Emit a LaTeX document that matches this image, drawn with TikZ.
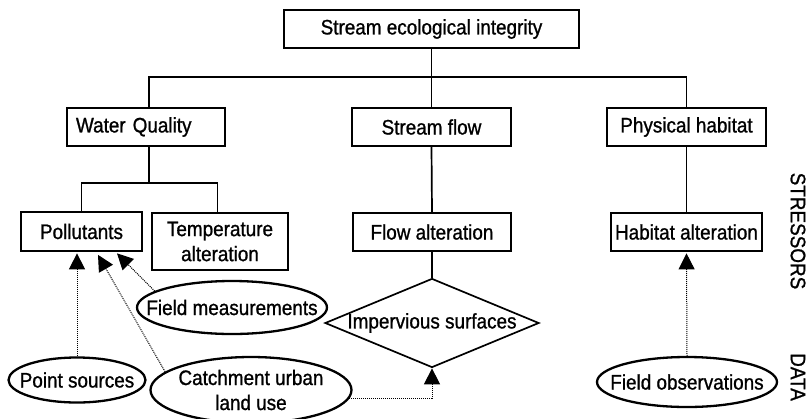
\documentclass[tikz,border=0pt]{standalone}
\usepackage{fontspec}
\setmainfont{Liberation Sans}[FakeStretch=0.9,FakeBold=1.0]
\usetikzlibrary{shapes.geometric,arrows.meta}
\begin{document}
\begin{tikzpicture}[x=1pt,y=-1pt,
  every node/.style={font=\fontsize{21}{25}\selectfont, inner sep=0pt},
  box/.style={draw, line width=1.7pt, align=center},
  src/.style={draw, ellipse, line width=2.3pt, inner sep=-40pt, align=center},
  tree/.style={line width=1.7pt},
  feed/.style={densely dotted, line width=1pt, -{Triangle[length=16pt,width=16pt]}}]
\useasboundingbox (0,0) rectangle (808,418);

% hierarchy of indicators
\node[box, minimum width=295, minimum height=38] (sei) at (431.5,29) {Stream ecological integrity};
\node[box, minimum width=158, minimum height=38, text width=140, align=left] (wq) at (146,127) {Water Quality};
\node[box, minimum width=159, minimum height=38] (sf) at (431.5,127) {Stream flow};
\node[box, minimum width=159, minimum height=38] (ph) at (686.5,127) {Physical habitat};

% stressors
\node[box, minimum width=121, minimum height=39] (pol) at (81.5,231.5) {Pollutants};
\node[box, minimum width=136, minimum height=57] (temp) at (220,241.5) {Temperature\\alteration};
\node[box, minimum width=158, minimum height=38] (fa) at (432,232) {Flow alteration};
\node[box, minimum width=151, minimum height=38] (ha) at (686.5,232) {Habitat alteration};
\node[draw, diamond, line width=1.7pt, inner sep=-30pt, minimum width=214, minimum height=89] (imp) at (432,323) {Impervious surfaces};

% data sources
\node[src, minimum width=190, minimum height=53] (fm) at (232,307.5) {Field measurements};
\node[src, minimum width=137, minimum height=45] (ps) at (77,380) {Point sources};
\node[src, minimum width=201, minimum height=66] (cul) at (251,390) {Catchment urban\\land use};
\node[src, minimum width=180, minimum height=50] (fo) at (687,382) {Field observations};

% side labels
\node[rotate=-90] (str) at (798,231) {STRESSORS};
\node[rotate=-90] (dat) at (798,377) {DATA};

% tree connectors
\coordinate (bus) at (432,77);
\coordinate (wqbus) at (149,183);
\draw[tree] (sei.south) -- (sf.north);
\draw[tree] ([xshift=3pt]wq.north) |- (bus) -| (ph.north);
\draw[tree] ([xshift=3pt]wq.south) -- (wqbus);
\draw[tree] (pol.north) |- (wqbus) -| ([xshift=-2.5pt]temp.north);
\draw[tree] (sf.south) -- (fa.north);
\draw[tree] (fa.south) -- (imp.north);
\draw[tree] (ph.south) -- (ha.north);

% data feeding the stressors
\draw[feed] (ps.north) -- ([xshift=-4.5pt,yshift=-1.5pt]pol.south);
\draw[feed] (cul.168) -- ([xshift=16.5pt,yshift=-3pt]pol.south);
\draw[feed] (fm.168) -- ([xshift=35.5pt,yshift=-1.5pt]pol.south);
\draw[feed] (cul.-5) -| (imp.south);
\draw[feed] (fo.north) -- ([yshift=-1.5pt]ha.south);
\end{tikzpicture}
\end{document}
